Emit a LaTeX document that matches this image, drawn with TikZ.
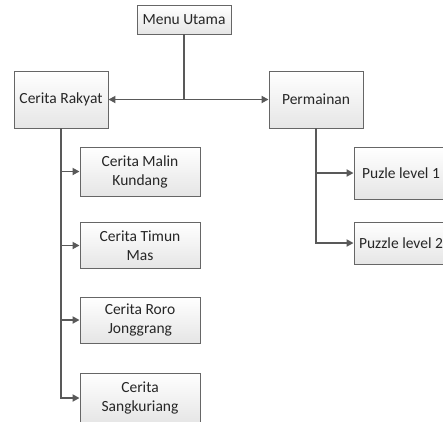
\documentclass[tikz,border=0pt]{standalone}
\usepackage{fontspec}
\setmainfont{Carlito}
\usetikzlibrary{arrows.meta}

\tikzset{
  menubox/.style={draw=gray!80!black, line width=0.9pt, top color=white, bottom color=gray!20,
    font=\fontsize{15.5}{19}\selectfont, text=black!85, align=center, inner sep=0pt},
  link/.style={draw=black!65, line width=1.8pt, -{Triangle[length=7pt,width=7pt]}}
}

\begin{document}
\begin{tikzpicture}[x=1pt,y=-1pt]
\useasboundingbox (0,0) rectangle (443,421);
\clip (0,0) rectangle (443,421);

\node[menubox, minimum width=94pt, minimum height=29pt] (menu) at (184,19.5) {Menu Utama};
\node[menubox, minimum width=94pt, minimum height=57pt] (rakyat) at (61,99.5) {Cerita Rakyat};
\node[menubox, minimum width=94pt, minimum height=57pt] (main) at (316,99.5) {Permainan};

\node[menubox, minimum width=120pt, minimum height=49pt] (malin) at (140,171.5) {Cerita Malin\\Kundang};
\node[menubox, minimum width=120pt, minimum height=46pt] (timun) at (140,245.5) {Cerita Timun\\Mas};
\node[menubox, minimum width=120pt, minimum height=46pt] (roro) at (140,320) {Cerita Roro\\Jonggrang};
\node[menubox, minimum width=120pt, minimum height=50pt] (sangku) at (140,398) {Cerita\\Sangkuriang};

\node[menubox, minimum width=94pt, minimum height=52pt] (puzle1) at (401,173) {Puzle level 1};
\node[menubox, minimum width=94pt, minimum height=42pt] (puzle2) at (401,243) {Puzzle level 2};

% menu utama
\draw[line width=1.8pt, black!65] (menu.south) -- (menu.south |- rakyat.east) coordinate (split);
\draw[link] (split) -- (rakyat.east);
\draw[link] (split) -- (main.west);

% cerita rakyat
\draw[link] (rakyat.south) |- (malin.west);
\draw[link] (rakyat.south) |- (timun.west);
\draw[link] (rakyat.south) |- (roro.west);
\draw[link] (rakyat.south) |- (sangku.west);

% permainan
\draw[link] (main.south) |- (puzle1.west);
\draw[link] (main.south) |- (puzle2.west);

\end{tikzpicture}
\end{document}
